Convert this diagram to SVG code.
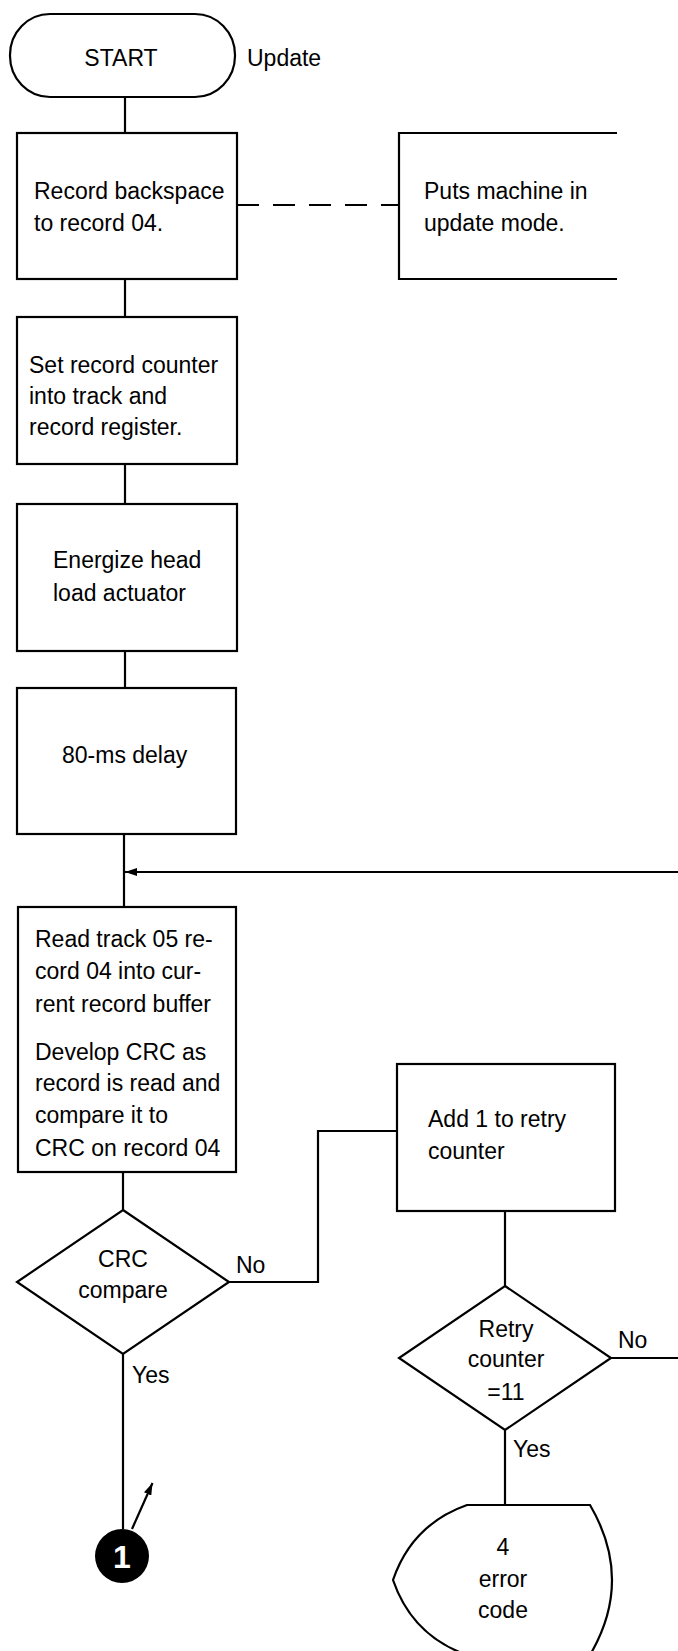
<svg xmlns="http://www.w3.org/2000/svg" width="678" height="1651" viewBox="0 0 678 1651">
<defs>
<style>
.s{fill:#fff;stroke:#000;stroke-width:2.2}
.l{fill:none;stroke:#000;stroke-width:2.2}
.t{font-family:"Liberation Sans",Arial,sans-serif;font-size:23px;fill:#000}
.c{text-anchor:middle}
</style>
<marker id="ah" viewBox="0 0 12 8" refX="12" refY="4" markerWidth="12" markerHeight="8" markerUnits="userSpaceOnUse" orient="auto">
<path d="M0,0 L12,4 L0,8 Z" fill="#000"/>
</marker>
</defs>
<rect width="678" height="1651" fill="#fff"/>
<g id="connectors">
<line class="l" x1="125" y1="97" x2="125" y2="133"/>
<line class="l" x1="237" y1="205" x2="399" y2="205" stroke-dasharray="22 14"/>
<line class="l" x1="125" y1="279" x2="125" y2="317"/>
<line class="l" x1="125" y1="464" x2="125" y2="504"/>
<line class="l" x1="125" y1="651" x2="125" y2="688"/>
<line class="l" x1="124" y1="834" x2="124" y2="907"/>
<line class="l" x1="678" y1="872" x2="125" y2="872" marker-end="url(#ah)"/>
<line class="l" x1="123" y1="1172" x2="123" y2="1210"/>
<path class="l" d="M229,1282 H318 V1131 H397"/>
<line class="l" x1="505" y1="1211" x2="505" y2="1286"/>
<line class="l" x1="611" y1="1358" x2="678" y2="1358"/>
<line class="l" x1="123" y1="1354" x2="123" y2="1529"/>
<line class="l" x1="505" y1="1430" x2="505" y2="1505"/>
<line class="l" x1="132" y1="1529" x2="152.5" y2="1483" marker-end="url(#ah)"/>
<text class="t" x="236" y="1273">No</text>
<text class="t" x="132" y="1383">Yes</text>
<text class="t" x="618" y="1348">No</text>
<text class="t" x="513" y="1457">Yes</text>
</g>
<g id="start">
<rect class="s" x="10" y="14" width="225" height="83" rx="40" ry="41"/>
<text class="t c" x="121" y="66">START</text>
<text class="t" x="247" y="66">Update</text>
</g>
<g id="backspace">
<rect class="s" x="17" y="133" width="220" height="146"/>
<text class="t" x="34" y="199">Record backspace</text>
<text class="t" x="34" y="231">to record 04.</text>
</g>
<g id="note">
<path class="l" d="M617,133 H399 V279 H617"/>
<text class="t" x="424" y="199">Puts machine in</text>
<text class="t" x="424" y="231">update mode.</text>
</g>
<g id="setcounter">
<rect class="s" x="17" y="317" width="220" height="147"/>
<text class="t" x="29" y="373">Set record counter</text>
<text class="t" x="29" y="404">into track and</text>
<text class="t" x="29" y="435">record register.</text>
</g>
<g id="energize">
<rect class="s" x="17" y="504" width="220" height="147"/>
<text class="t" x="53" y="568">Energize head</text>
<text class="t" x="53" y="601">load actuator</text>
</g>
<g id="delay">
<rect class="s" x="17" y="688" width="219" height="146"/>
<text class="t" x="62" y="763">80-ms delay</text>
</g>
<g id="read">
<rect class="s" x="18" y="907" width="218" height="265"/>
<text class="t" x="35" y="947">Read track 05 re-</text>
<text class="t" x="35" y="979">cord 04 into cur-</text>
<text class="t" x="35" y="1012">rent record buffer</text>
<text class="t" x="35" y="1060">Develop CRC as</text>
<text class="t" x="35" y="1091">record is read and</text>
<text class="t" x="35" y="1123">compare it to</text>
<text class="t" x="35" y="1156">CRC on record 04</text>
</g>
<g id="crc">
<polygon class="s" points="123,1210 229,1282 123,1354 17,1282"/>
<text class="t c" x="123" y="1267">CRC</text>
<text class="t c" x="123" y="1298">compare</text>
</g>
<g id="addretry">
<rect class="s" x="397" y="1064" width="218" height="147"/>
<text class="t" x="428" y="1127">Add 1 to retry</text>
<text class="t" x="428" y="1159">counter</text>
</g>
<g id="retry">
<polygon class="s" points="505,1286 611,1358 505,1430 399,1358"/>
<text class="t c" x="506" y="1337">Retry</text>
<text class="t c" x="506" y="1367">counter</text>
<text class="t c" x="506" y="1400">=11</text>
</g>
<g id="connector1">
<circle cx="122" cy="1556" r="27" fill="#000"/>
<text x="122" y="1568" text-anchor="middle" font-family="Liberation Sans,Arial,sans-serif" font-size="32" font-weight="bold" fill="#fff">1</text>
</g>
<g id="errorcode">
<path class="s" d="M467,1505 H590 Q634,1580 590,1655 H467 Q412,1635.5 393,1580 Q412,1524.5 467,1505 Z"/>
<text class="t c" x="503" y="1555">4</text>
<text class="t c" x="503" y="1587">error</text>
<text class="t c" x="503" y="1618">code</text>
</g>
</svg>
